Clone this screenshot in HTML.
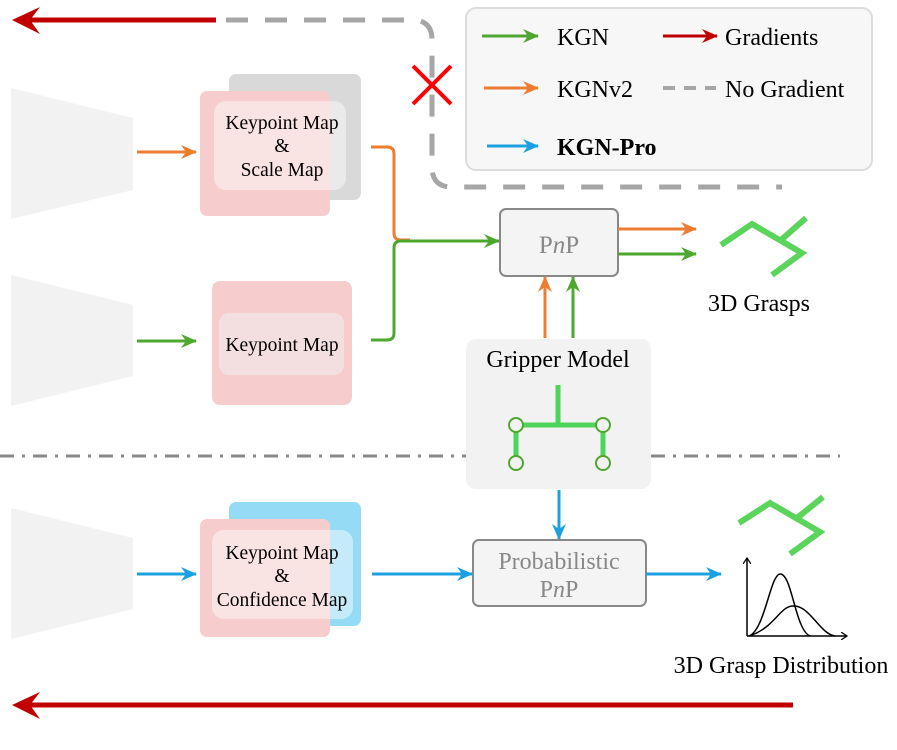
<!DOCTYPE html>
<html><head><meta charset="utf-8"><style>
html,body{margin:0;padding:0;background:#fff;}
svg{display:block;font-family:"Liberation Serif",serif;}
</style></head><body>
<svg width="897" height="750" viewBox="0 0 897 750" xmlns="http://www.w3.org/2000/svg">
<defs>
<marker id="ag" markerWidth="16" markerHeight="14" refX="15" refY="7" orient="auto" markerUnits="userSpaceOnUse"><path d="M0,0 L16,7 L0,14 L5,7 Z" fill="#4ea72e"/></marker>
<marker id="ao" markerWidth="16" markerHeight="14" refX="15" refY="7" orient="auto" markerUnits="userSpaceOnUse"><path d="M0,0 L16,7 L0,14 L5,7 Z" fill="#ed7d31"/></marker>
<marker id="ab" markerWidth="16" markerHeight="14" refX="15" refY="7" orient="auto" markerUnits="userSpaceOnUse"><path d="M0,0 L16,7 L0,14 L5,7 Z" fill="#1ba1e2"/></marker>
<marker id="ar" markerWidth="16" markerHeight="14" refX="15" refY="7" orient="auto" markerUnits="userSpaceOnUse"><path d="M0,0 L16,7 L0,14 L5,7 Z" fill="#c00000"/></marker>
<marker id="ak" markerWidth="8" markerHeight="8" refX="6" refY="4" orient="auto" markerUnits="userSpaceOnUse"><path d="M0,0 L6,4 L0,8" fill="none" stroke="#000" stroke-width="1.2"/></marker>
</defs>

<line x1="216" y1="20" x2="30" y2="20" stroke="#c00000" stroke-width="5"/>
<path d="M12,20 L40,7 L30,20 L40,34 Z" fill="#c00000"/>
<path d="M226,20 L412,20 Q432,20 432,40 L432,167 Q432,187 452,187 L782,187" fill="none" stroke="#a6a6a6" stroke-width="5" stroke-dasharray="22,17"/>
<line x1="413" y1="66" x2="451" y2="104" stroke="#ff0000" stroke-width="4"/>
<line x1="451" y1="66" x2="413" y2="104" stroke="#ff0000" stroke-width="4"/>

<rect x="466" y="8" width="406" height="162" rx="10" fill="#f7f7f7" stroke="#dcdcdc" stroke-width="2"/>
<line x1="482" y1="36" x2="538" y2="36" stroke="#4ea72e" stroke-width="3" marker-end="url(#ag)"/>
<line x1="484" y1="88" x2="538" y2="88" stroke="#ed7d31" stroke-width="3" marker-end="url(#ao)"/>
<line x1="487" y1="146" x2="538" y2="146" stroke="#1ba1e2" stroke-width="3" marker-end="url(#ab)"/>
<line x1="663" y1="36" x2="717" y2="36" stroke="#c00000" stroke-width="3" marker-end="url(#ar)"/>
<line x1="663" y1="88" x2="716" y2="88" stroke="#a6a6a6" stroke-width="4" stroke-dasharray="12,9"/>
<g font-size="24" fill="#000">
<text x="557" y="45">KGN</text>
<text x="557" y="97">KGNv2</text>
<text x="557" y="155" font-weight="bold">KGN-Pro</text>
<text x="725" y="45">Gradients</text>
<text x="725" y="97">No Gradient</text>
</g>

<polygon points="11,88 133,118 133,190 11,219" fill="#f2f2f2"/>
<polygon points="11,275 133,305 133,376 11,406" fill="#f2f2f2"/>
<polygon points="11,508 133,538 133,609 11,639" fill="#f2f2f2"/>

<line x1="137" y1="152" x2="196" y2="152" stroke="#ed7d31" stroke-width="3" marker-end="url(#ao)"/>
<line x1="137" y1="341" x2="196" y2="341" stroke="#4ea72e" stroke-width="3" marker-end="url(#ag)"/>
<line x1="137" y1="574" x2="196" y2="574" stroke="#1ba1e2" stroke-width="3" marker-end="url(#ab)"/>

<rect x="229" y="74" width="132" height="126" rx="7" fill="#d9d9d9"/>
<rect x="200" y="91" width="130" height="125" rx="7" fill="#f6cccc"/>
<rect x="214" y="101" width="132" height="89" rx="12" fill="#ffffff" fill-opacity="0.45"/>
<g font-size="19.5" text-anchor="middle" fill="#000">
<text x="282" y="129">Keypoint Map</text>
<text x="282" y="152">&amp;</text>
<text x="282" y="176">Scale Map</text>
</g>
<rect x="212" y="281" width="140" height="124" rx="8" fill="#f6cccc"/>
<rect x="219" y="313" width="125" height="62" rx="10" fill="#f4dfe0"/>
<text x="282" y="351" font-size="19.5" text-anchor="middle">Keypoint Map</text>
<rect x="229" y="502" width="132" height="124" rx="7" fill="#96dbf5"/>
<rect x="200" y="519" width="130" height="118" rx="7" fill="#f6cccc"/>
<rect x="212" y="530" width="141" height="89" rx="12" fill="#ffffff" fill-opacity="0.45"/>
<g font-size="19.5" text-anchor="middle" fill="#000">
<text x="282" y="559">Keypoint Map</text>
<text x="282" y="582">&amp;</text>
<text x="282" y="606">Confidence Map</text>
</g>

<path d="M371,147 L387,147 Q394,147 394,154 L394,233 Q394,240 401,240 L410,240" fill="none" stroke="#ed7d31" stroke-width="3"/>
<path d="M371,340 L387,340 Q394,340 394,333 L394,248 Q394,241 401,241 L499,241" fill="none" stroke="#4ea72e" stroke-width="3" marker-end="url(#ag)"/>

<rect x="500" y="209" width="118" height="67" rx="6" fill="#f4f4f4" stroke="#888" stroke-width="2"/>
<text x="559" y="253" font-size="25" text-anchor="middle" fill="#888">P<tspan font-style="italic">n</tspan>P</text>
<line x1="618" y1="229" x2="696" y2="229" stroke="#ed7d31" stroke-width="3" marker-end="url(#ao)"/>
<line x1="618" y1="254" x2="696" y2="254" stroke="#4ea72e" stroke-width="3" marker-end="url(#ag)"/>
<line x1="545" y1="338" x2="545" y2="277" stroke="#ed7d31" stroke-width="3" marker-end="url(#ao)"/>
<line x1="573" y1="338" x2="573" y2="277" stroke="#4ea72e" stroke-width="3" marker-end="url(#ag)"/>

<g fill="none" stroke="#5bd45b" stroke-width="6">
<polyline points="721,245 752,224 802,253 772,275"/>
<line x1="781" y1="240" x2="806" y2="218"/>
</g>
<text x="759" y="311" font-size="24" text-anchor="middle">3D Grasps</text>

<line x1="0" y1="456" x2="466" y2="456" stroke="#888" stroke-width="3" stroke-dasharray="14,8,3,8"/>
<line x1="651" y1="456" x2="840" y2="456" stroke="#888" stroke-width="3" stroke-dasharray="14,8,3,8"/>

<rect x="466" y="339" width="185" height="150" rx="10" fill="#f2f2f2"/>
<text x="558" y="367" font-size="24" text-anchor="middle">Gripper Model</text>
<g stroke="#4cd45c" stroke-width="5" fill="none">
<line x1="558" y1="385" x2="558" y2="425"/>
<line x1="516" y1="425" x2="603" y2="425"/>
<line x1="516" y1="425" x2="516" y2="463"/>
<line x1="603" y1="425" x2="603" y2="463"/>
</g>
<g stroke="#4ea72e" stroke-width="2" fill="#f2f2f2">
<circle cx="516" cy="425" r="7"/><circle cx="603" cy="425" r="7"/>
<circle cx="516" cy="463" r="7"/><circle cx="603" cy="463" r="7"/>
</g>

<line x1="559" y1="490" x2="559" y2="539" stroke="#1ba1e2" stroke-width="3" marker-end="url(#ab)"/>
<rect x="473" y="540" width="173" height="66" rx="6" fill="#f4f4f4" stroke="#888" stroke-width="2"/>
<g font-size="24" text-anchor="middle" fill="#888">
<text x="559" y="569">Probabilistic</text>
<text x="559" y="597">P<tspan font-style="italic">n</tspan>P</text>
</g>
<line x1="372" y1="574" x2="472" y2="574" stroke="#1ba1e2" stroke-width="3" marker-end="url(#ab)"/>
<line x1="646" y1="574" x2="721" y2="574" stroke="#1ba1e2" stroke-width="3" marker-end="url(#ab)"/>

<g fill="none" stroke="#5bd45b" stroke-width="6">
<polyline points="739,523 770,503 820,532 790,554"/>
<line x1="797" y1="518" x2="823" y2="497"/>
</g>
<line x1="747" y1="636" x2="747" y2="558" stroke="#000" stroke-width="1.5" marker-end="url(#ak)"/>
<line x1="747" y1="636" x2="847" y2="636" stroke="#000" stroke-width="1.5" marker-end="url(#ak)"/>
<path d="M749,636 C765,630 770,575 780,574 C792,573 795,630 810,636" fill="none" stroke="#000" stroke-width="1.5"/>
<path d="M749,636 C775,628 780,605 794,606 C810,606 820,634 835,636" fill="none" stroke="#000" stroke-width="1.5"/>
<text x="781" y="673" font-size="24" text-anchor="middle">3D Grasp Distribution</text>

<line x1="793" y1="705" x2="30" y2="705" stroke="#c00000" stroke-width="5"/>
<path d="M12,705 L40,692 L30,705 L40,719 Z" fill="#c00000"/>
</svg>
</body></html>
